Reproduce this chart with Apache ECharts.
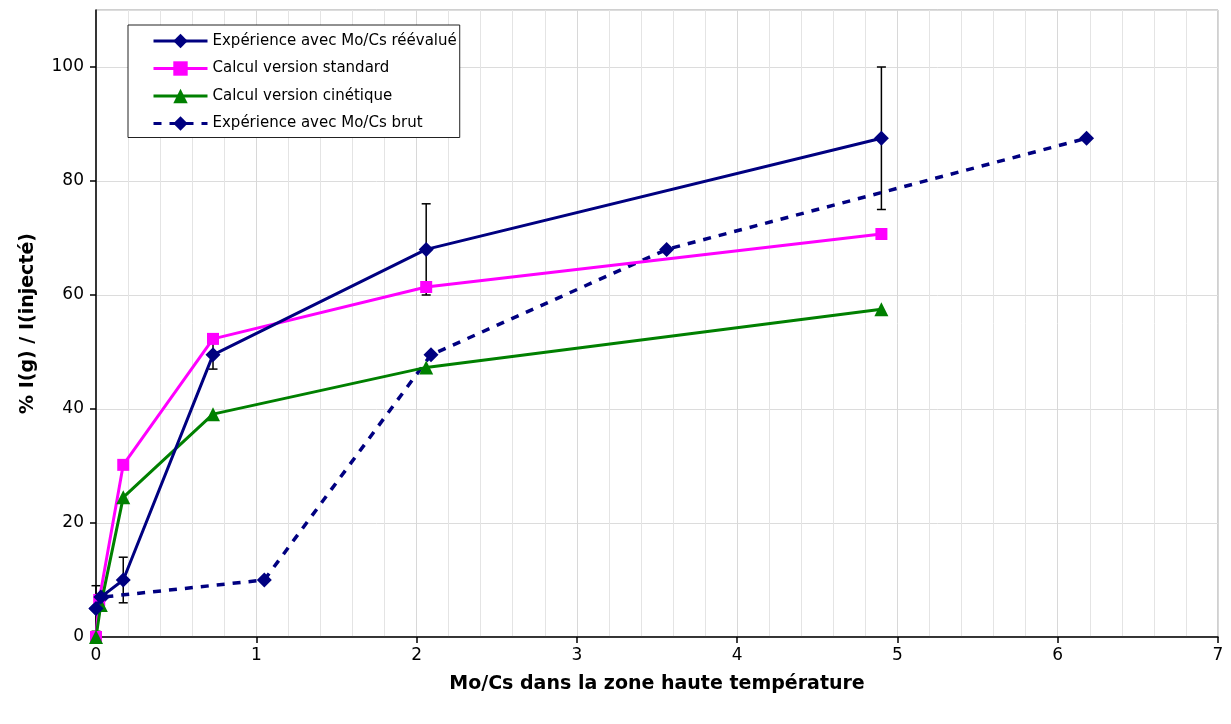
<!DOCTYPE html>
<html>
<head>
<meta charset="utf-8">
<script src="https://cdn.jsdelivr.net/npm/echarts@6/dist/echarts.min.js"></script>
<style>html,body{margin:0;padding:0;background:#fff;}#c{width:1231px;height:724px;}</style>
</head>
<body>
<div id="c"></div>
<script>
var seriesNames = ['Expérience avec Mo/Cs réévalué', 'Calcul version standard', 'Calcul version cinétique', 'Expérience avec Mo/Cs brut'];

var reevalX = [0, 0.03, 0.17, 0.73, 2.06, 4.90];
var reevalY = [5, 7, 10, 49.5, 68, 87.5];
var reevalErr = [4, 0, 4, 2.5, 8, 12.5];

var standardX = [0, 0.02, 0.17, 0.73, 2.06, 4.90];
var standardY = [0, 6.5, 30.2, 52.3, 61.4, 70.7];

var cinetiqueX = [0, 0.03, 0.17, 0.73, 2.06, 4.90];
var cinetiqueY = [0, 5.6, 24.5, 39.1, 47.3, 57.5];

var brutX = [0, 0.04, 1.05, 2.09, 3.56, 6.18];
var brutY = [5, 7, 10, 49.5, 68, 87.5];

var xTicks = [0, 1, 2, 3, 4, 5, 6, 7];
var yTicks = [0, 20, 40, 60, 80, 100];

function pairs(xs, ys) { return xs.map(function (x, i) { return [x, ys[i]]; }); }

var errData = reevalX.map(function (x, i) { return [x, reevalY[i] - reevalErr[i], reevalY[i] + reevalErr[i]]; })
  .filter(function (d) { return d[2] > d[1]; });

var font = 'DejaVu Sans';
var chart = echarts.init(document.getElementById('c'), null, { renderer: 'canvas' });
chart.setOption({
  animation: false,
  backgroundColor: '#fff',
  textStyle: { fontFamily: font },
  grid: { left: 96, right: 13, top: 10, bottom: 87, show: true, borderColor: '#a0a0a0', borderWidth: 1, backgroundColor: 'transparent' },
  legend: {
    orient: 'vertical', left: 128, top: 25,
    backgroundColor: '#fff', borderColor: '#222', borderWidth: 1,
    padding: [6, 3, 4, 24],
    itemWidth: 54, itemHeight: 18, itemGap: 7.5,
    textStyle: { fontFamily: font, fontSize: 15, color: '#000', lineHeight: 20 },
    lineStyle: { width: 3 },
    data: seriesNames
  },
  xAxis: {
    type: 'value', min: 0, max: 7, interval: 1,
    name: 'Mo/Cs dans la zone haute température', nameLocation: 'middle', nameGap: 38,
    nameTextStyle: { fontFamily: font, fontSize: 19, fontWeight: 'bold', color: '#000' },
    axisLine: { show: true, onZero: false, lineStyle: { color: '#000', width: 1.5 } },
    axisTick: { show: true, length: 6, lineStyle: { color: '#000', width: 1.5 } },
    axisLabel: { fontSize: 17, color: '#000', margin: 10, fontFamily: font },
    splitLine: { show: true, lineStyle: { color: '#d8d8d8', width: 1 } },
    minorTick: { show: false, splitNumber: 5 },
    minorSplitLine: { show: true, lineStyle: { color: '#e4e4e4', width: 1 } }
  },
  yAxis: {
    type: 'value', min: 0, max: 110, interval: 20,
    name: '% I(g) / I(injecté)', nameLocation: 'middle', nameGap: 58, nameRotate: 90,
    nameTextStyle: { fontFamily: font, fontSize: 19, fontWeight: 'bold', color: '#000' },
    axisLine: { show: true, lineStyle: { color: '#000', width: 1.5 } },
    axisTick: { show: true, length: 6, lineStyle: { color: '#000', width: 1.5 } },
    axisLabel: { fontSize: 17, color: '#000', margin: 12, fontFamily: font, showMaxLabel: false,
      formatter: function (v) { return yTicks.indexOf(v) >= 0 ? String(v) : ''; } },
    splitLine: { show: true, lineStyle: { color: '#dcdcdc', width: 1 } }
  },
  series: [
    {
      name: seriesNames[0], type: 'line', data: pairs(reevalX, reevalY), z: 5,
      symbol: 'diamond', symbolSize: 15, showAllSymbol: true,
      lineStyle: { color: '#000080', width: 3 }, itemStyle: { color: '#000080' }
    },
    {
      name: seriesNames[1], type: 'line', data: pairs(standardX, standardY), z: 4,
      symbol: 'rect', symbolSize: 12,
      lineStyle: { color: '#ff00ff', width: 3 }, itemStyle: { color: '#ff00ff' }
    },
    {
      name: seriesNames[2], type: 'line', data: pairs(cinetiqueX, cinetiqueY), z: 4,
      symbol: 'triangle', symbolSize: 14,
      lineStyle: { color: '#008000', width: 3 }, itemStyle: { color: '#008000' }
    },
    {
      name: seriesNames[3], type: 'line', data: pairs(brutX, brutY), z: 3,
      symbol: 'diamond', symbolSize: 15,
      lineStyle: { color: '#000080', width: 3.5, type: [8, 8] }, itemStyle: { color: '#000080' }
    },
    {
      type: 'custom', z: 2, silent: true,
      data: errData,
      renderItem: function (params, api) {
        var x = api.value(0);
        var lo = api.coord([x, api.value(1)]);
        var hi = api.coord([x, api.value(2)]);
        var hw = 4.5;
        var st = { stroke: '#000', lineWidth: 1.5 };
        return {
          type: 'group',
          children: [
            { type: 'line', shape: { x1: lo[0], y1: lo[1], x2: hi[0], y2: hi[1] }, style: st },
            { type: 'line', shape: { x1: lo[0] - hw, y1: lo[1], x2: lo[0] + hw, y2: lo[1] }, style: st },
            { type: 'line', shape: { x1: hi[0] - hw, y1: hi[1], x2: hi[0] + hw, y2: hi[1] }, style: st }
          ]
        };
      }
    }
  ]
});
</script>
</body>
</html>
